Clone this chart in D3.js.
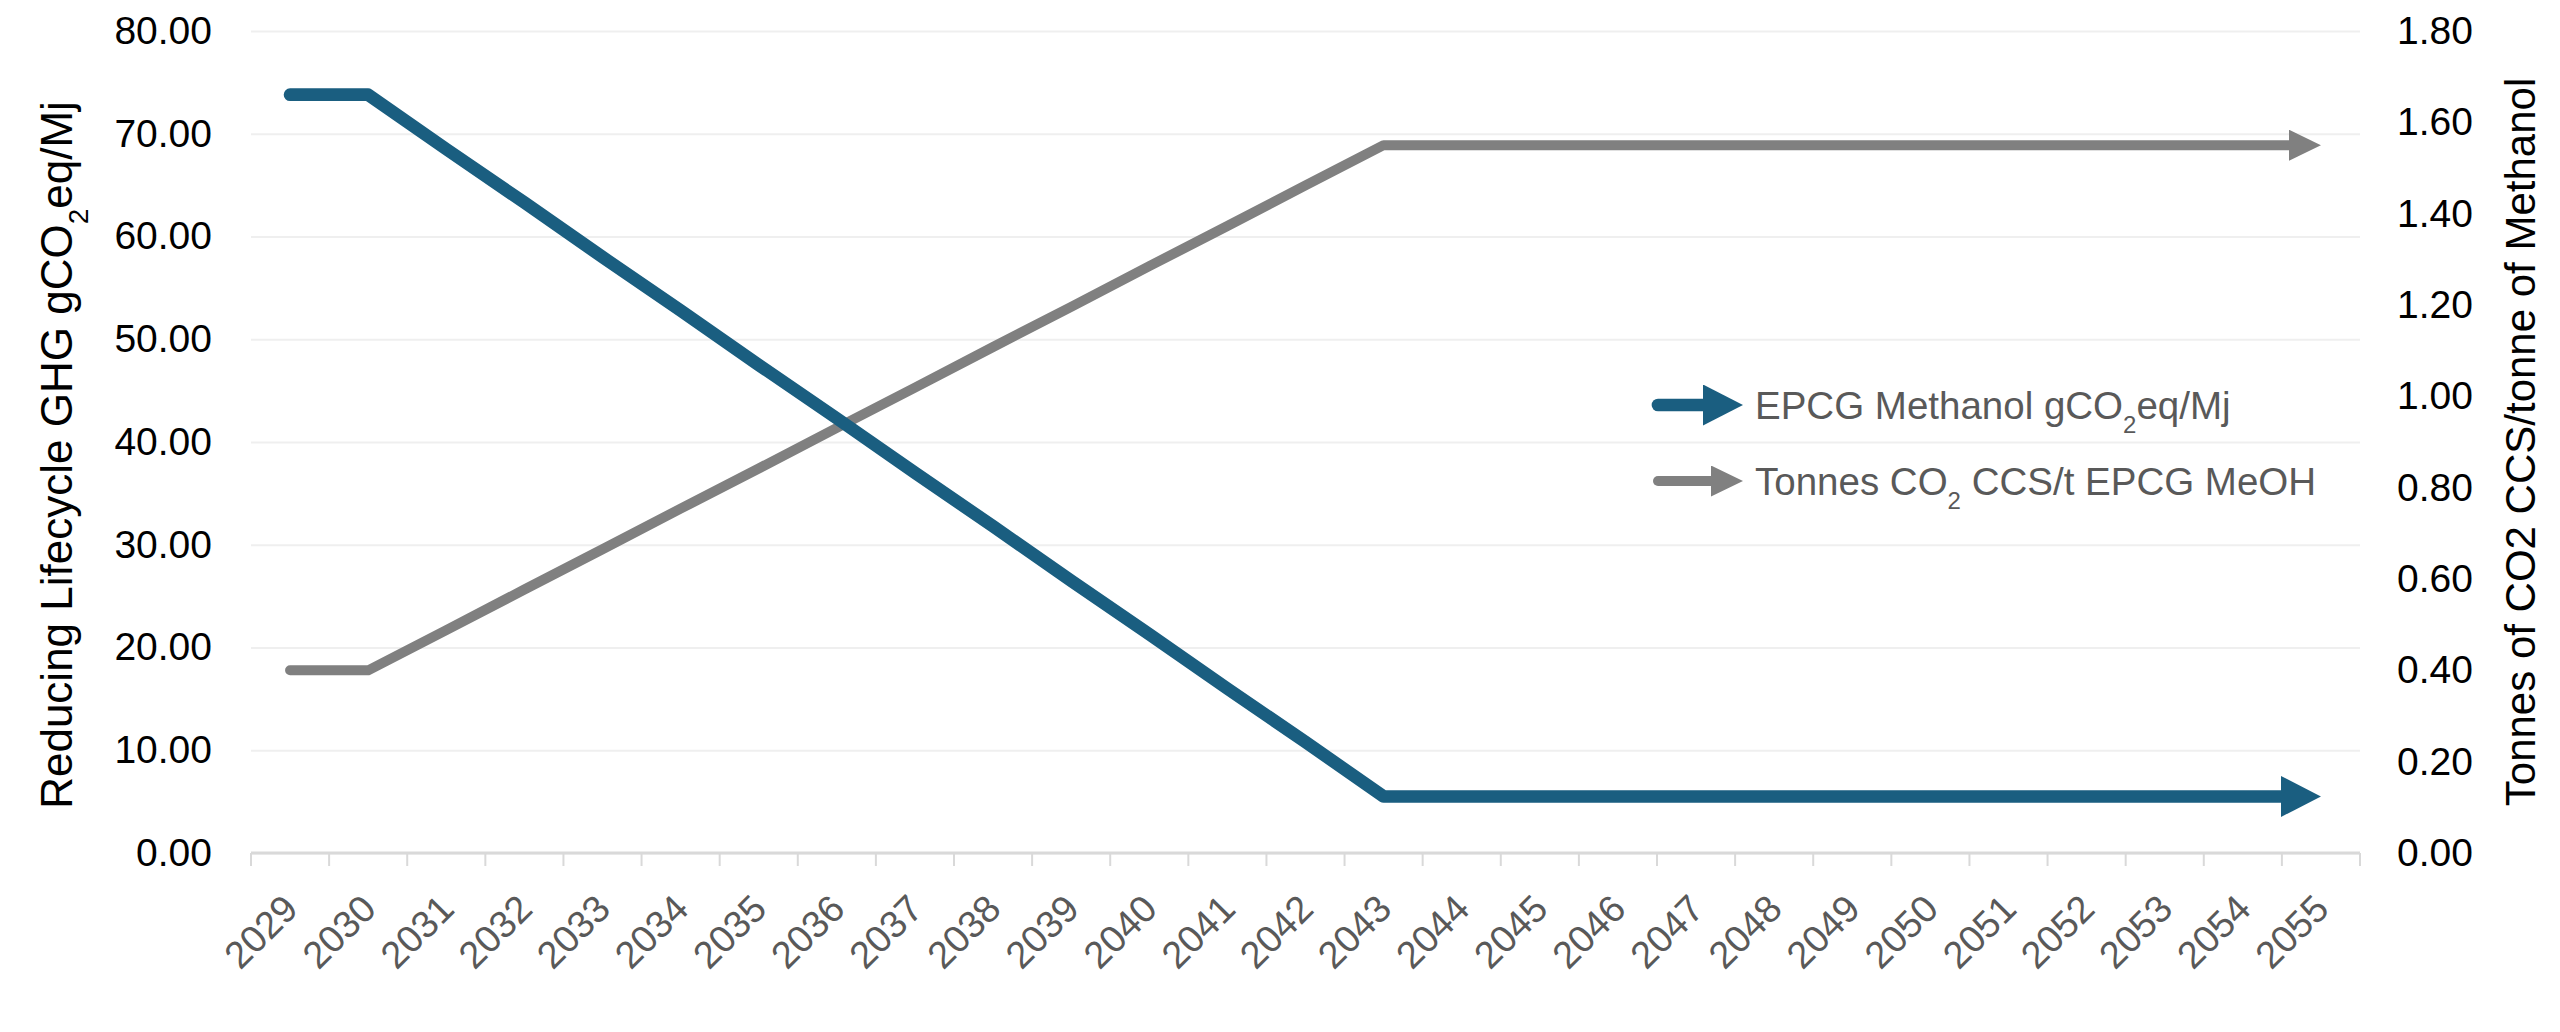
<!DOCTYPE html>
<html>
<head>
<meta charset="utf-8">
<script src="https://cdn.jsdelivr.net/npm/d3@7"></script>
<style>
  html, body { margin: 0; padding: 0; background: #fff; }
  svg { display: block; font-family: "Liberation Sans", Arial, sans-serif; }
</style>
</head>
<body>
<svg id="chart" width="2560" height="1032"></svg>
<script>
// data
const years = ["2029","2030","2031","2032","2033","2034","2035","2036","2037","2038","2039","2040","2041",
  "2042","2043","2044","2045","2046","2047","2048","2049","2050","2051","2052","2053","2054","2055"]
const methanolGhg = [73.8, 73.8, 68.5, 63.3, 58.0, 52.8, 47.5, 42.3, 37.0, 31.8, 26.5, 21.3, 16.0,
  10.8, 5.5, 5.5, 5.5, 5.5, 5.5, 5.5, 5.5, 5.5, 5.5, 5.5, 5.5, 5.5, 5.5]
const ccsTonnes = [0.400, 0.400, 0.488, 0.577, 0.665, 0.754, 0.842, 0.931, 1.019, 1.108, 1.196, 1.285, 1.373,
  1.462, 1.55, 1.55, 1.55, 1.55, 1.55, 1.55, 1.55, 1.55, 1.55, 1.55, 1.55, 1.55, 1.55]
const leftTicks = [0, 10, 20, 30, 40, 50, 60, 70, 80]
const rightTicks = [0, 0.2, 0.4, 0.6, 0.8, 1.0, 1.2, 1.4, 1.6, 1.8]

const blue = "#1a5e80"
const grey = "#808080"
const labelGrey = "#595959"

const plotLeft = 251, plotRight = 2360, plotTop = 31, plotBottom = 853

const svg = d3.select("#chart")

const x = d3.scaleBand().domain(years).range([plotLeft, plotRight])
const yL = d3.scaleLinear().domain([0, 80]).range([plotBottom, plotTop])
const yR = d3.scaleLinear().domain([0, 1.8]).range([plotBottom, plotTop])

// arrow heads
const defs = svg.append("defs")
function arrowMarker(id, color, len, wid){
  defs.append("marker")
    .attr("id", id)
    .attr("markerUnits", "userSpaceOnUse")
    .attr("viewBox", `0 0 ${len} ${wid}`)
    .attr("markerWidth", len)
    .attr("markerHeight", wid)
    .attr("refX", len)
    .attr("refY", wid / 2)
    .attr("orient", "auto")
    .append("path")
    .attr("d", `M0,0L${len},${wid / 2}L0,${wid}Z`)
    .attr("fill", color)
}
arrowMarker("arrowBlue", blue, 40, 41)
arrowMarker("arrowGrey", grey, 32, 31)

// gridlines
svg.append("g")
  .attr("transform", `translate(${plotLeft},0)`)
  .call(d3.axisLeft(yL).tickValues(leftTicks).tickSize(-(plotRight - plotLeft)).tickFormat(""))
  .call(g => g.select(".domain").remove())
  .call(g => g.selectAll(".tick line").attr("stroke", "#efefef").attr("stroke-width", 2))

// x axis line + ticks between categories
const xAxis = svg.append("g").attr("class", "x-axis")
xAxis.append("line")
  .attr("x1", plotLeft).attr("x2", plotRight)
  .attr("y1", plotBottom).attr("y2", plotBottom)
  .attr("stroke", "#d9d9d9").attr("stroke-width", 3)
xAxis.selectAll(".xtick")
  .data(years.concat(["end"]))
  .enter()
  .append("line")
  .attr("class", "xtick")
  .attr("x1", d => d === "end" ? plotRight : x(d))
  .attr("x2", d => d === "end" ? plotRight : x(d))
  .attr("y1", plotBottom).attr("y2", plotBottom + 13)
  .attr("stroke", "#d9d9d9").attr("stroke-width", 2)

xAxis.selectAll(".xlabel")
  .data(years)
  .enter()
  .append("text")
  .attr("class", "xlabel")
  .attr("transform", d => `translate(${x(d) + x.bandwidth() / 2 + 10},${plotBottom + 58}) rotate(-45)`)
  .attr("text-anchor", "end")
  .attr("fill", labelGrey)
  .style("font-size", "38px")
  .text(d => d)

// left axis labels
svg.append("g")
  .attr("transform", `translate(212,0)`)
  .call(d3.axisLeft(yL).tickValues(leftTicks).tickSize(0).tickPadding(0).tickFormat(d3.format(".2f")))
  .call(g => g.select(".domain").remove())
  .call(g => g.selectAll("text").attr("fill", "#000").style("font-size", "39px").style("font-family", "inherit"))

// right axis labels
svg.append("g")
  .attr("transform", `translate(2397,0)`)
  .call(d3.axisRight(yR).tickValues(rightTicks).tickSize(0).tickPadding(0).tickFormat(d3.format(".2f")))
  .call(g => g.select(".domain").remove())
  .call(g => g.selectAll("text").attr("fill", "#000").style("font-size", "39px").style("font-family", "inherit"))

// axis titles
const leftTitle = svg.append("text")
  .attr("transform", `translate(72,455) rotate(-90)`)
  .attr("text-anchor", "middle")
  .attr("fill", "#000")
  .style("font-size", "44px")
leftTitle.append("tspan").text("Reducing Lifecycle GHG gCO")
leftTitle.append("tspan").attr("baseline-shift", "sub").style("font-size", "28px").text("2")
leftTitle.append("tspan").text("eq/Mj")

svg.append("text")
  .attr("transform", `translate(2535,${(plotTop + plotBottom) / 2}) rotate(-90)`)
  .attr("text-anchor", "middle")
  .attr("fill", "#000")
  .style("font-size", "42px")
  .text("Tonnes of CO2 CCS/tonne of Methanol")

// lines
function drawLine(values, yScale, color, width, marker){
  const line = d3.line()
    .x((d, i) => x(years[i]) + x.bandwidth() / 2)
    .y(d => yScale(d))
  const path = svg.append("path")
    .datum(values)
    .attr("d", line)
    .attr("fill", "none")
    .attr("stroke", color)
    .attr("stroke-width", width)
    .attr("stroke-linecap", "round")
    .attr("stroke-linejoin", "round")
    .attr("marker-end", `url(#${marker})`)
  const len = path.node().getTotalLength()
  // stop the stroke short so it hides under the arrow head
  path.attr("stroke-dasharray", `${len - 22} ${len}`)
}
drawLine(ccsTonnes, yR, grey, 10, "arrowGrey")
drawLine(methanolGhg, yL, blue, 12.7, "arrowBlue")

// legend
const legendItems = [
  {color: blue, width: 12.7, marker: "arrowBlue", y: 405, parts: ["EPCG Methanol gCO", "2", "eq/Mj"]},
  {color: grey, width: 10, marker: "arrowGrey", y: 481, parts: ["Tonnes CO", "2", " CCS/t EPCG MeOH"]}
]
const legendG = svg.selectAll(".legend")
  .data(legendItems)
  .enter()
  .append("g")
  .attr("class", "legend")
  .attr("transform", d => `translate(1652,${d.y})`)

legendG.append("path")
  .attr("d", "M6,0L91,0")
  .attr("fill", "none")
  .attr("stroke", d => d.color)
  .attr("stroke-width", d => d.width)
  .attr("stroke-linecap", "round")
  .attr("stroke-dasharray", "65 200")
  .attr("marker-end", d => `url(#${d.marker})`)

const legendText = legendG.append("text")
  .attr("x", 103)
  .attr("y", 14)
  .attr("fill", labelGrey)
  .style("font-size", "38.5px")
legendText.append("tspan").text(d => d.parts[0])
legendText.append("tspan").attr("baseline-shift", "sub").style("font-size", "24px").text(d => d.parts[1])
legendText.append("tspan").text(d => d.parts[2])
</script>
</body>
</html>
